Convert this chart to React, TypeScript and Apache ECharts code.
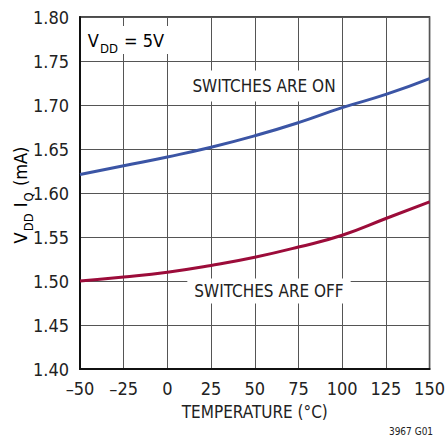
import React, { useEffect, useRef } from "react";
import * as echarts from "echarts";

const temperatures = [-50, -25, 0, 25, 50, 75, 100, 125, 150];
const switchesOn = [1.621, 1.631, 1.641, 1.652, 1.665, 1.68, 1.697, 1.712, 1.73];
const switchesOff = [1.5, 1.5045, 1.51, 1.5177, 1.527, 1.5386, 1.552, 1.571, 1.59];
const xTicks = [-50, -25, 0, 25, 50, 75, 100, 125, 150];
const yTicks = [1.4, 1.45, 1.5, 1.55, 1.6, 1.65, 1.7, 1.75, 1.8];

const FONT = "'Liberation Sans Narrow', 'DejaVu Sans Condensed', 'Liberation Sans', sans-serif";
const TXT = "#222";

export default function App() {
  const ref = useRef<HTMLDivElement>(null);
  useEffect(() => {
    document.body.style.margin = "0";
    if (!ref.current) return;
    const chart = echarts.init(ref.current, undefined, { renderer: "svg" });
    const rich = {
      m: { fontSize: 18, fontFamily: FONT, color: TXT, lineHeight: 22, verticalAlign: "middle" as const },
      s: { fontSize: 13, fontFamily: FONT, color: TXT, lineHeight: 22, verticalAlign: "bottom" as const, padding: [0, 1, -4, 1] },
    };
    chart.setOption({
      animation: false,
      textStyle: { fontFamily: FONT },
      grid: {
        left: 80,
        top: 17,
        width: 352,
        height: 352,
        show: true,
        borderColor: "#111",
        borderWidth: 1.5,
        backgroundColor: "transparent",
      },
      xAxis: {
        type: "value",
        min: xTicks[0],
        max: xTicks[xTicks.length - 1],
        interval: 25,
        name: "TEMPERATURE (°C)",
        nameLocation: "middle",
        nameGap: 34,
        nameTextStyle: { fontSize: 17, fontFamily: FONT, color: TXT },
        axisLine: { show: true, onZero: false, lineStyle: { color: "#111", width: 2 } },
        axisTick: { show: false },
        axisLabel: {
          fontSize: 18,
          fontFamily: FONT,
          color: TXT,
          margin: 10,
          formatter: (v: number) => (v < 0 ? "\u2013" + Math.abs(v) : String(v)),
        },
        splitLine: { show: true, lineStyle: { color: "#555", width: 1 } },
      },
      yAxis: {
        type: "value",
        min: yTicks[0],
        max: yTicks[yTicks.length - 1],
        interval: 0.05,
        axisLine: { show: true, onZero: false, lineStyle: { color: "#111", width: 2 } },
        axisTick: { show: false },
        axisLabel: {
          fontSize: 18,
          fontFamily: FONT,
          color: TXT,
          margin: 11,
          formatter: (v: number) => v.toFixed(2),
        },
        splitLine: { show: true, lineStyle: { color: "#555", width: 1 } },
      },
      series: [
        {
          type: "line",
          name: "SWITCHES ARE ON",
          data: temperatures.map((t, i) => [t, switchesOn[i]]),
          smooth: true,
          showSymbol: false,
          lineStyle: { color: "#3b55a5", width: 3 },
          z: 5,
        },
        {
          type: "line",
          name: "SWITCHES ARE OFF",
          data: temperatures.map((t, i) => [t, switchesOff[i]]),
          smooth: true,
          showSymbol: false,
          lineStyle: { color: "#9c0c3a", width: 3 },
          z: 5,
        },
      ],
      graphic: [
        {
          type: "text",
          x: 20,
          y: 195,
          rotation: Math.PI / 2,
          style: {
            text: "{m|V}{s|DD}{m| I}{s|Q}{m| (mA)}",
            rich,
            align: "center",
            verticalAlign: "middle",
          },
        },
        {
          type: "text",
          x: 126,
          y: 40,
          z: 10,
          style: {
            text: "{m|V}{s|DD}{m| = 5V}",
            rich,
            align: "center",
            verticalAlign: "middle",
            backgroundColor: "#fff",
            padding: [3, 5, 3, 5],
          },
        },
        {
          type: "text",
          x: 264,
          y: 86,
          z: 10,
          style: {
            text: "SWITCHES ARE ON",
            fontSize: 17,
            fontFamily: FONT,
            fill: TXT,
            align: "center",
            verticalAlign: "middle",
            backgroundColor: "#fff",
            padding: [7, 6, 7, 6],
          },
        },
        {
          type: "text",
          x: 269,
          y: 291,
          z: 10,
          style: {
            text: "SWITCHES ARE OFF",
            fontSize: 17,
            fontFamily: FONT,
            fill: TXT,
            align: "center",
            verticalAlign: "middle",
            backgroundColor: "#fff",
            padding: [4, 7, 4, 7],
          },
        },
        {
          type: "text",
          x: 411,
          y: 431,
          style: {
            text: "3967 G01",
            fontSize: 10,
            fontFamily: FONT,
            fill: TXT,
            align: "center",
            verticalAlign: "middle",
          },
        },
      ],
    });
    return () => chart.dispose();
  }, []);
  return <div ref={ref} style={{ width: 448, height: 436 }} />;
}
